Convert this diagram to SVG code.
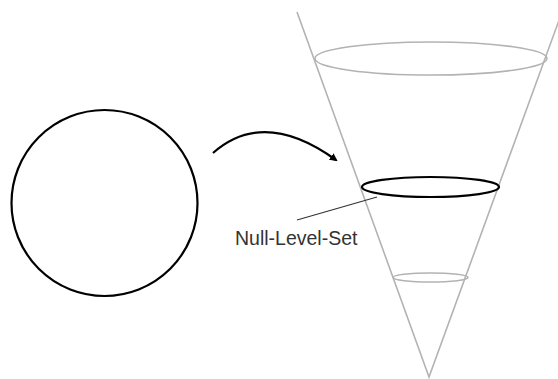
<svg xmlns="http://www.w3.org/2000/svg" width="558" height="379" viewBox="0 0 558 379">
<style>
.grey{fill:none;stroke:#b3b3b3;stroke-width:1.6}
.blk{fill:none;stroke:#000;stroke-width:2.2}
.lbl{font-family:"Liberation Sans",Arial,sans-serif;font-size:19.5px;fill:#333}
</style>
<defs>
<marker id="ah" markerWidth="8" markerHeight="8" refX="6" refY="4" orient="auto" markerUnits="userSpaceOnUse">
<path d="M0,0 L8,4 L0,8 z" fill="#000"/>
</marker>
</defs>
<rect width="558" height="379" fill="#fff"/>
<g id="circle"><circle cx="104.5" cy="203" r="93" class="blk"/></g>
<g id="cone">
<path d="M297,12 L429,377 L562,12" class="grey"/>
<ellipse cx="431" cy="58.5" rx="116" ry="16.5" class="grey"/>
<ellipse cx="430.5" cy="277.5" rx="37.5" ry="4.5" class="grey"/>
</g>
<g id="levelset"><ellipse cx="430.5" cy="187" rx="68.5" ry="10" class="blk" stroke-width="2.5"/></g>
<g id="connectors">
<path d="M213,153 Q264,108 336,160" fill="none" stroke="#000" stroke-width="2.2" marker-end="url(#ah)"/>
<line x1="297" y1="220" x2="377" y2="197" stroke="#333" stroke-width="1.2"/>
</g>
<g id="label"><text x="235" y="245" class="lbl">Null-Level-Set</text></g>
</svg>
